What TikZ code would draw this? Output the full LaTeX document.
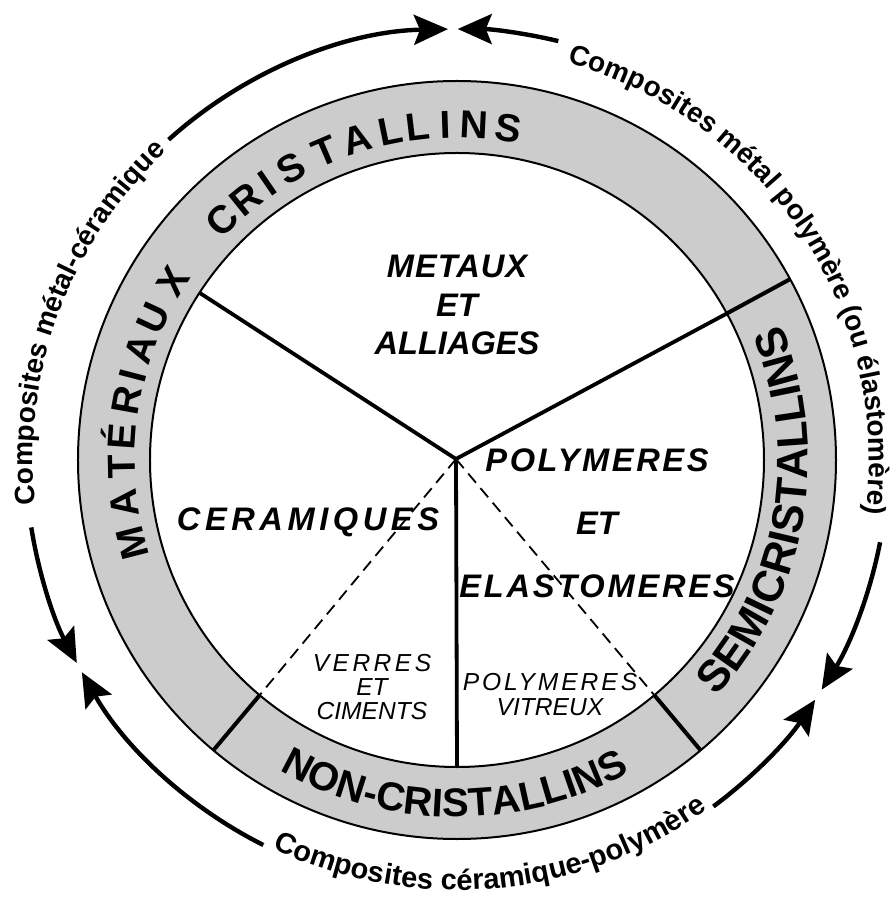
\documentclass[tikz,border=0pt]{standalone}
\usepackage{fontspec}
\setmainfont{Liberation Sans}
\usetikzlibrary{arrows.meta,decorations.text}
\definecolor{gris}{RGB}{204,204,204}
\newcommand\etiq{\fontsize{14}{14}\selectfont\bfseries}
\newcommand\etiqbas{\fontsize{14.5}{14.5}\selectfont\bfseries}
\newcommand\anfont{\fontsize{20}{20}\selectfont\bfseries}
\newcommand\semifont{\fontsize{22}{22}\selectfont\bfseries}
\tikzset{
  anneau/.style={fill=gris,draw=black,line width=1pt,even odd rule},
  sep/.style={line width=2pt},
  trait/.style={line width=1.9pt},
  tiret/.style={line width=0.9pt,dash pattern=on 6pt off 3.5pt},
  fleche/.style={line width=2.2pt,-{Stealth[length=17pt,width=15pt,inset=3pt]}},
  lettre/.style={font=\fontsize{19.5}{20}\selectfont\bfseries,inner sep=0pt,anchor=base},
  gras/.style={font=\fontsize{16.3}{19.25}\selectfont\bfseries\itshape,align=center,inner sep=0pt},
  fin/.style={font=\fontsize{12.3}{12}\selectfont\itshape,align=center,inner sep=0pt},
  arctxt/.style={decorate,decoration={text along path,text align=center,text={#1}}},
}
\begin{document}
\begin{tikzpicture}[x=0.5pt,y=0.5pt]
\useasboundingbox (-457,-439) rectangle (434,460);
\coordinate (O) at (-1,1);
\path[anneau] (0,0) circle[radius=379] (0,0) circle[radius=307];
\foreach \a in {28.5,230,310}
  \draw[sep] (\a:307) -- (\a:379);
\foreach \a/\n in {147/cm,28.5/mp,270/bas}{
  \coordinate (\n) at (\a:307);
  \draw[trait] (O) -- (\n);
}
\foreach \a/\n in {230/cv,310/pv}{
  \coordinate (\n) at (\a:307);
  \draw[tiret] (O) -- (\n);
}
\foreach \a/\ch [count=\i] in {194.4/M,187.5/A,181.2/T,176/É,169.8/R,165.4/I,160.7/A,154.9/U,147.9/X,
  134.4/C,128.9/R,124.5/I,119.6/S,113.2/T,107.3/A,101.5/L,96.8/L,91.9/I,87.1/N,81.1/S}
  \node[lettre,rotate=\a-90] (l\i) at (\a:322) {\ch};
\path[arctxt={|\anfont|NON-CRISTALLINS}] (229.6:357) arc[start angle=229.6,end angle=309.6,radius=357];
\path[arctxt={|\semifont|SEMICRISTALLINS}] (-50:351) arc[start angle=-50,end angle=30.4,radius=351];
\node[gras] (metaux) at (0,155) {\addfontfeature{LetterSpace=3}METAUX\\ET\\ALLIAGES};
\node[gras] (ceram) at (-149,-62) {\addfontfeature{LetterSpace=14}CERAMIQUES};
\node[gras] (polym) at (140,-63) {\addfontfeature{LetterSpace=8}POLYMERES\\[12.25pt]ET\\[12.25pt]\addfontfeature{LetterSpace=8.5}ELASTOMERES};
\node[fin] (verres) at (-85,-227) {\addfontfeature{LetterSpace=14}VERRES\\ET\\CIMENTS};
\node[fin] (vitreux) at (93,-234.5) {\addfontfeature{LetterSpace=12}POLYMERES\\[0.5pt]VITREUX};
\coordinate (a1) at (132:431);
\coordinate (a2) at (76.4:431);
\coordinate (a3) at (189:431);
\coordinate (a4) at (243.3:431);
\coordinate (a5) at (-11:431);
\coordinate (a6) at (-53.5:431);
\draw[fleche] (a1) arc[start angle=132,end angle=91.2,radius=431];
\draw[fleche] (a2) arc[start angle=76.4,end angle=89.9,radius=431];
\draw[fleche] (a3) arc[start angle=189,end angle=208.1,radius=431];
\draw[fleche] (a4) arc[start angle=243.3,end angle=209.5,radius=431];
\draw[fleche] (a5) arc[start angle=-11,end angle=-32.2,radius=431];
\draw[fleche] (a6) arc[start angle=-53.5,end angle=-33.8,radius=431];
\path[arctxt={|\etiq|Composites métal-céramique}] (205:424) arc[start angle=205,end angle=114.2,radius=424];
\path[arctxt={|\etiq|Composites métal polymère (ou élastomère)}] (85:412) arc[start angle=85,end angle=-18,radius=412];
\path[arctxt={|\etiqbas|Composites céramique-polymère}] (229:430) arc[start angle=229,end angle=321.2,radius=430];
\end{tikzpicture}
\end{document}
